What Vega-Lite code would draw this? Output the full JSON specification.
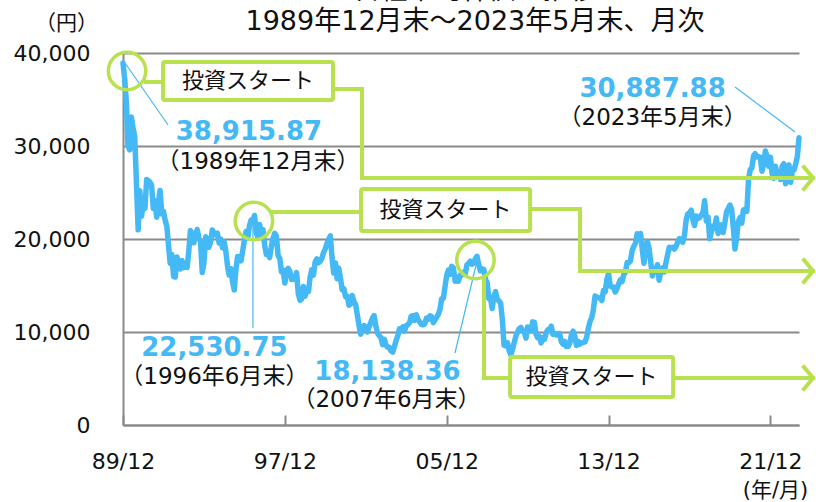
{
"$schema":"https://vega.github.io/schema/vega-lite/v6.json",
"width":676,"height":372,
"autosize":"none",
"padding":{"left":123,"top":53,"right":17,"bottom":77},
"background":"white",
"config":{"view":{"stroke":null},"font":"DejaVu Sans, Noto Sans CJK JP"},
"title":{"text":["日経平均株価の推移","1989年12月末～2023年5月末、月次"],"fontSize":27,"fontWeight":"normal","lineHeight":31,"color":"#111111","anchor":"middle","frame":"group","dx":14,"offset":-24,"font":"DejaVu Sans, Noto Sans CJK JP"},
"datasets":{
"s":[
{"d":"1989-12","v":38915.87},
{"d":"1990-01","v":37188.95},{"d":"1990-02","v":34591.99},{"d":"1990-03","v":29980.45},{"d":"1990-04","v":29584.80},{"d":"1990-05","v":33130.30},{"d":"1990-06","v":31940.24},{"d":"1990-07","v":31035.66},{"d":"1990-08","v":25978.96},{"d":"1990-09","v":20983.50},{"d":"1990-10","v":25194.10},{"d":"1990-11","v":22454.63},{"d":"1990-12","v":23848.71},
{"d":"1991-01","v":23293.14},{"d":"1991-02","v":26409.22},{"d":"1991-03","v":26292.04},{"d":"1991-04","v":26111.25},{"d":"1991-05","v":25789.87},{"d":"1991-06","v":23290.96},{"d":"1991-07","v":24120.36},{"d":"1991-08","v":22335.87},{"d":"1991-09","v":23916.45},{"d":"1991-10","v":25222.09},{"d":"1991-11","v":22687.01},{"d":"1991-12","v":22983.77},
{"d":"1992-01","v":22023.05},{"d":"1992-02","v":21338.81},{"d":"1992-03","v":19345.95},{"d":"1992-04","v":17390.70},{"d":"1992-05","v":18347.68},{"d":"1992-06","v":15951.73},{"d":"1992-07","v":15910.28},{"d":"1992-08","v":18061.08},{"d":"1992-09","v":17399.08},{"d":"1992-10","v":16767.40},{"d":"1992-11","v":17683.37},{"d":"1992-12","v":16924.95},
{"d":"1993-01","v":17023.78},{"d":"1993-02","v":16953.10},{"d":"1993-03","v":18591.45},{"d":"1993-04","v":20919.09},{"d":"1993-05","v":20552.67},{"d":"1993-06","v":19590.00},{"d":"1993-07","v":20380.24},{"d":"1993-08","v":21026.97},{"d":"1993-09","v":20105.71},{"d":"1993-10","v":19703.63},{"d":"1993-11","v":16407.86},{"d":"1993-12","v":17417.24},
{"d":"1994-01","v":20229.12},{"d":"1994-02","v":19997.20},{"d":"1994-03","v":19111.92},{"d":"1994-04","v":19725.14},{"d":"1994-05","v":20973.59},{"d":"1994-06","v":20643.93},{"d":"1994-07","v":20448.33},{"d":"1994-08","v":20628.71},{"d":"1994-09","v":19563.56},{"d":"1994-10","v":19989.50},{"d":"1994-11","v":19076.28},{"d":"1994-12","v":19723.06},
{"d":"1995-01","v":18649.82},{"d":"1995-02","v":17053.43},{"d":"1995-03","v":16139.95},{"d":"1995-04","v":16806.75},{"d":"1995-05","v":15437.51},{"d":"1995-06","v":14517.40},{"d":"1995-07","v":16677.99},{"d":"1995-08","v":18117.20},{"d":"1995-09","v":17913.06},{"d":"1995-10","v":17654.79},{"d":"1995-11","v":18744.28},{"d":"1995-12","v":19868.15},
{"d":"1996-01","v":20812.80},{"d":"1996-02","v":20125.37},{"d":"1996-03","v":21406.85},{"d":"1996-04","v":22041.07},{"d":"1996-05","v":21956.19},{"d":"1996-06","v":22530.75},{"d":"1996-07","v":20692.83},{"d":"1996-08","v":20167.76},{"d":"1996-09","v":21556.40},{"d":"1996-10","v":20466.42},{"d":"1996-11","v":21020.34},{"d":"1996-12","v":19361.35},
{"d":"1997-01","v":18330.01},{"d":"1997-02","v":18557.00},{"d":"1997-03","v":18003.40},{"d":"1997-04","v":19151.12},{"d":"1997-05","v":20068.00},{"d":"1997-06","v":20604.96},{"d":"1997-07","v":20331.19},{"d":"1997-08","v":18229.42},{"d":"1997-09","v":17888.35},{"d":"1997-10","v":16458.94},{"d":"1997-11","v":16636.17},{"d":"1997-12","v":15258.74},
{"d":"1998-01","v":16628.47},{"d":"1998-02","v":16831.67},{"d":"1998-03","v":16527.17},{"d":"1998-04","v":15641.26},{"d":"1998-05","v":15670.78},{"d":"1998-06","v":15830.27},{"d":"1998-07","v":16378.97},{"d":"1998-08","v":14107.89},{"d":"1998-09","v":13406.39},{"d":"1998-10","v":13564.51},{"d":"1998-11","v":14883.70},{"d":"1998-12","v":13842.17},
{"d":"1999-01","v":14499.25},{"d":"1999-02","v":14367.54},{"d":"1999-03","v":15836.59},{"d":"1999-04","v":16701.53},{"d":"1999-05","v":16111.65},{"d":"1999-06","v":17529.74},{"d":"1999-07","v":17861.86},{"d":"1999-08","v":17436.56},{"d":"1999-09","v":17605.46},{"d":"1999-10","v":17942.08},{"d":"1999-11","v":18558.23},{"d":"1999-12","v":18934.34},
{"d":"2000-01","v":19539.70},{"d":"2000-02","v":19959.52},{"d":"2000-03","v":20337.32},{"d":"2000-04","v":17973.70},{"d":"2000-05","v":16332.45},{"d":"2000-06","v":17411.05},{"d":"2000-07","v":15727.49},{"d":"2000-08","v":16861.26},{"d":"2000-09","v":15747.26},{"d":"2000-10","v":14539.60},{"d":"2000-11","v":14648.51},{"d":"2000-12","v":13785.69},
{"d":"2001-01","v":13843.55},{"d":"2001-02","v":12883.54},{"d":"2001-03","v":12999.70},{"d":"2001-04","v":13934.32},{"d":"2001-05","v":13262.14},{"d":"2001-06","v":12969.05},{"d":"2001-07","v":11860.77},{"d":"2001-08","v":10713.51},{"d":"2001-09","v":9774.68},{"d":"2001-10","v":10366.34},{"d":"2001-11","v":10697.44},{"d":"2001-12","v":10542.62},
{"d":"2002-01","v":9997.80},{"d":"2002-02","v":10587.83},{"d":"2002-03","v":11024.94},{"d":"2002-04","v":11492.54},{"d":"2002-05","v":11763.70},{"d":"2002-06","v":10621.84},{"d":"2002-07","v":9877.94},{"d":"2002-08","v":9619.30},{"d":"2002-09","v":9383.29},{"d":"2002-10","v":8640.48},{"d":"2002-11","v":9215.56},{"d":"2002-12","v":8578.95},
{"d":"2003-01","v":8339.94},{"d":"2003-02","v":8363.04},{"d":"2003-03","v":7972.71},{"d":"2003-04","v":7831.42},{"d":"2003-05","v":8424.51},{"d":"2003-06","v":9083.11},{"d":"2003-07","v":9563.21},{"d":"2003-08","v":10343.55},{"d":"2003-09","v":10219.05},{"d":"2003-10","v":10559.59},{"d":"2003-11","v":10100.57},{"d":"2003-12","v":10676.64},
{"d":"2004-01","v":10783.61},{"d":"2004-02","v":11041.92},{"d":"2004-03","v":11715.39},{"d":"2004-04","v":11761.79},{"d":"2004-05","v":11236.37},{"d":"2004-06","v":11858.87},{"d":"2004-07","v":11325.78},{"d":"2004-08","v":11081.79},{"d":"2004-09","v":10823.57},{"d":"2004-10","v":10771.42},{"d":"2004-11","v":10899.25},{"d":"2004-12","v":11488.76},
{"d":"2005-01","v":11387.59},{"d":"2005-02","v":11740.60},{"d":"2005-03","v":11668.95},{"d":"2005-04","v":11008.90},{"d":"2005-05","v":11276.59},{"d":"2005-06","v":11584.01},{"d":"2005-07","v":11899.60},{"d":"2005-08","v":12413.60},{"d":"2005-09","v":13574.30},{"d":"2005-10","v":13606.50},{"d":"2005-11","v":14872.15},{"d":"2005-12","v":16111.43},
{"d":"2006-01","v":16649.82},{"d":"2006-02","v":16205.43},{"d":"2006-03","v":17059.66},{"d":"2006-04","v":16906.23},{"d":"2006-05","v":15467.33},{"d":"2006-06","v":15505.18},{"d":"2006-07","v":15456.81},{"d":"2006-08","v":16140.76},{"d":"2006-09","v":16127.58},{"d":"2006-10","v":16399.39},{"d":"2006-11","v":16274.33},{"d":"2006-12","v":17225.83},
{"d":"2007-01","v":17383.42},{"d":"2007-02","v":17604.12},{"d":"2007-03","v":17287.65},{"d":"2007-04","v":17400.41},{"d":"2007-05","v":17875.75},{"d":"2007-06","v":18138.36},{"d":"2007-07","v":17248.89},{"d":"2007-08","v":16569.09},{"d":"2007-09","v":16785.69},{"d":"2007-10","v":16737.63},{"d":"2007-11","v":15680.67},{"d":"2007-12","v":15307.78},
{"d":"2008-01","v":13592.47},{"d":"2008-02","v":13603.02},{"d":"2008-03","v":12525.54},{"d":"2008-04","v":13849.99},{"d":"2008-05","v":14338.54},{"d":"2008-06","v":13481.38},{"d":"2008-07","v":13376.81},{"d":"2008-08","v":13072.87},{"d":"2008-09","v":11259.86},{"d":"2008-10","v":8576.98},{"d":"2008-11","v":8512.27},{"d":"2008-12","v":8859.56},
{"d":"2009-01","v":7994.05},{"d":"2009-02","v":7568.42},{"d":"2009-03","v":8109.53},{"d":"2009-04","v":8828.26},{"d":"2009-05","v":9522.50},{"d":"2009-06","v":9958.44},{"d":"2009-07","v":10356.83},{"d":"2009-08","v":10492.53},{"d":"2009-09","v":10133.23},{"d":"2009-10","v":10034.74},{"d":"2009-11","v":9345.55},{"d":"2009-12","v":10546.44},
{"d":"2010-01","v":10198.04},{"d":"2010-02","v":10126.03},{"d":"2010-03","v":11089.94},{"d":"2010-04","v":11057.40},{"d":"2010-05","v":9768.70},{"d":"2010-06","v":9382.64},{"d":"2010-07","v":9537.30},{"d":"2010-08","v":8824.06},{"d":"2010-09","v":9369.35},{"d":"2010-10","v":9202.45},{"d":"2010-11","v":9937.04},{"d":"2010-12","v":10228.92},
{"d":"2011-01","v":10237.92},{"d":"2011-02","v":10624.09},{"d":"2011-03","v":9755.10},{"d":"2011-04","v":9849.74},{"d":"2011-05","v":9693.73},{"d":"2011-06","v":9816.09},{"d":"2011-07","v":9833.03},{"d":"2011-08","v":8955.20},{"d":"2011-09","v":8700.29},{"d":"2011-10","v":8988.39},{"d":"2011-11","v":8434.61},{"d":"2011-12","v":8455.35},
{"d":"2012-01","v":8802.51},{"d":"2012-02","v":9723.24},{"d":"2012-03","v":10083.56},{"d":"2012-04","v":9520.89},{"d":"2012-05","v":8542.73},{"d":"2012-06","v":9006.78},{"d":"2012-07","v":8695.06},{"d":"2012-08","v":8839.91},{"d":"2012-09","v":8870.16},{"d":"2012-10","v":8928.29},{"d":"2012-11","v":9446.01},{"d":"2012-12","v":10395.18},
{"d":"2013-01","v":11138.66},{"d":"2013-02","v":11559.36},{"d":"2013-03","v":12397.91},{"d":"2013-04","v":13860.86},{"d":"2013-05","v":13774.54},{"d":"2013-06","v":13677.32},{"d":"2013-07","v":13668.32},{"d":"2013-08","v":13388.86},{"d":"2013-09","v":14455.80},{"d":"2013-10","v":14327.94},{"d":"2013-11","v":15661.87},{"d":"2013-12","v":16291.31},
{"d":"2014-01","v":14914.53},{"d":"2014-02","v":14841.07},{"d":"2014-03","v":14827.83},{"d":"2014-04","v":14304.11},{"d":"2014-05","v":14632.38},{"d":"2014-06","v":15162.10},{"d":"2014-07","v":15620.77},{"d":"2014-08","v":15424.59},{"d":"2014-09","v":16173.52},{"d":"2014-10","v":16413.76},{"d":"2014-11","v":17459.85},{"d":"2014-12","v":17450.77},
{"d":"2015-01","v":17674.39},{"d":"2015-02","v":18797.94},{"d":"2015-03","v":19206.99},{"d":"2015-04","v":19520.01},{"d":"2015-05","v":20563.15},{"d":"2015-06","v":20235.73},{"d":"2015-07","v":20585.24},{"d":"2015-08","v":18890.48},{"d":"2015-09","v":17388.15},{"d":"2015-10","v":19083.10},{"d":"2015-11","v":19747.47},{"d":"2015-12","v":19033.71},
{"d":"2016-01","v":17518.30},{"d":"2016-02","v":16026.76},{"d":"2016-03","v":16758.67},{"d":"2016-04","v":16666.05},{"d":"2016-05","v":17234.98},{"d":"2016-06","v":15575.92},{"d":"2016-07","v":16569.27},{"d":"2016-08","v":16887.40},{"d":"2016-09","v":16449.84},{"d":"2016-10","v":17425.02},{"d":"2016-11","v":18308.48},{"d":"2016-12","v":19114.37},
{"d":"2017-01","v":19041.34},{"d":"2017-02","v":19118.99},{"d":"2017-03","v":18909.26},{"d":"2017-04","v":19196.74},{"d":"2017-05","v":19650.57},{"d":"2017-06","v":20033.43},{"d":"2017-07","v":19925.18},{"d":"2017-08","v":19646.24},{"d":"2017-09","v":20356.28},{"d":"2017-10","v":22011.61},{"d":"2017-11","v":22724.96},{"d":"2017-12","v":22764.94},
{"d":"2018-01","v":23098.29},{"d":"2018-02","v":22068.24},{"d":"2018-03","v":21454.30},{"d":"2018-04","v":22467.87},{"d":"2018-05","v":22201.82},{"d":"2018-06","v":22304.51},{"d":"2018-07","v":22553.72},{"d":"2018-08","v":22865.15},{"d":"2018-09","v":24120.04},{"d":"2018-10","v":21920.46},{"d":"2018-11","v":22351.06},{"d":"2018-12","v":20014.77},
{"d":"2019-01","v":20773.49},{"d":"2019-02","v":21385.16},{"d":"2019-03","v":21205.81},{"d":"2019-04","v":22258.73},{"d":"2019-05","v":20601.19},{"d":"2019-06","v":21275.92},{"d":"2019-07","v":21521.53},{"d":"2019-08","v":20704.37},{"d":"2019-09","v":21755.84},{"d":"2019-10","v":22927.04},{"d":"2019-11","v":23293.91},{"d":"2019-12","v":23656.62},
{"d":"2020-01","v":23205.18},{"d":"2020-02","v":21142.96},{"d":"2020-03","v":18917.01},{"d":"2020-04","v":20193.69},{"d":"2020-05","v":21877.89},{"d":"2020-06","v":22288.14},{"d":"2020-07","v":21710.00},{"d":"2020-08","v":23139.76},{"d":"2020-09","v":23185.12},{"d":"2020-10","v":22977.13},{"d":"2020-11","v":26433.62},{"d":"2020-12","v":27444.17},
{"d":"2021-01","v":27663.39},{"d":"2021-02","v":28966.01},{"d":"2021-03","v":29178.80},{"d":"2021-04","v":28812.63},{"d":"2021-05","v":28860.08},{"d":"2021-06","v":28791.53},{"d":"2021-07","v":27283.59},{"d":"2021-08","v":28089.54},{"d":"2021-09","v":29452.66},{"d":"2021-10","v":28892.69},{"d":"2021-11","v":27821.76},{"d":"2021-12","v":28791.71},
{"d":"2022-01","v":27001.98},{"d":"2022-02","v":26526.82},{"d":"2022-03","v":27821.43},{"d":"2022-04","v":26847.90},{"d":"2022-05","v":27279.80},{"d":"2022-06","v":26393.04},{"d":"2022-07","v":27801.64},{"d":"2022-08","v":28091.53},{"d":"2022-09","v":25937.21},{"d":"2022-10","v":27587.46},{"d":"2022-11","v":27968.99},{"d":"2022-12","v":26094.50},
{"d":"2023-01","v":27327.11},{"d":"2023-02","v":27445.56},{"d":"2023-03","v":28041.48},{"d":"2023-04","v":28856.44},{"d":"2023-05","v":30887.88}
],
"ld":[
{"g":1,"o":0,"d":"1990-01-07","v":38925},{"g":1,"o":1,"d":"1992-02-22","v":32258},
{"g":2,"o":0,"d":"1996-05-04","v":21505},{"g":2,"o":1,"d":"1996-05-04","v":10430},
{"g":3,"o":0,"d":"2007-06-01","v":17634},{"g":3,"o":1,"d":"2006-04-29","v":7742},
{"g":4,"o":0,"d":"2020-03-02","v":36344},{"g":4,"o":1,"d":"2023-02-19","v":31505}
],
"gl":[
{"g":"A1","o":0,"d":"1991-01-20","v":36882},{"g":"A1","o":1,"d":"1991-11-23","v":36882},
{"g":"A2","o":0,"d":"2000-04-18","v":36129},{"g":"A2","o":1,"d":"2001-09-24","v":36129},{"g":"A2","o":2,"d":"2001-09-24","v":26559},{"g":"A2","o":3,"d":"2024-01-05","v":26559},
{"g":"A3","o":0,"d":"2023-07-29","v":27742},{"g":"A3","o":1,"d":"2024-01-10","v":26559},{"g":"A3","o":2,"d":"2023-07-29","v":25376},
{"g":"B1","o":0,"d":"1997-04-30","v":22903},{"g":"B1","o":1,"d":"2001-09-06","v":22903},
{"g":"B2","o":0,"d":"2010-01-14","v":23226},{"g":"B2","o":1,"d":"2012-07-04","v":23226},{"g":"B2","o":2,"d":"2012-07-04","v":16559},{"g":"B2","o":3,"d":"2024-01-05","v":16559},
{"g":"B3","o":0,"d":"2023-07-29","v":17742},{"g":"B3","o":1,"d":"2024-01-10","v":16559},{"g":"B3","o":2,"d":"2023-07-29","v":15376},
{"g":"C1","o":0,"d":"2007-10-05","v":15699},{"g":"C1","o":1,"d":"2007-10-05","v":5054},{"g":"C1","o":2,"d":"2009-01-18","v":5054},
{"g":"C2","o":0,"d":"2017-02-09","v":5054},{"g":"C2","o":1,"d":"2024-01-05","v":5054},
{"g":"C3","o":0,"d":"2023-07-29","v":6237},{"g":"C3","o":1,"d":"2024-01-10","v":5054},{"g":"C3","o":2,"d":"2023-07-29","v":3871}
],
"ci":[
{"d":"1990-02-12","v":38065},{"d":"1996-05-22","v":21935},{"d":"2007-05-04","v":17742}
],
"bx":[
{"d":"1991-11-23","d2":"2000-04-18","v":39032,"v2":34946},
{"d":"2001-09-06","d2":"2010-01-14","v":25376,"v2":20860},
{"d":"2009-01-18","d2":"2017-02-09","v":7312,"v2":3011}
],
"bt":[
{"d":"1996-02-05","v":36989,"t":"投資スタート"},
{"d":"2005-11-10","v":23118,"t":"投資スタート"},
{"d":"2013-01-28","v":5161,"t":"投資スタート"}
],
"nl":[
{"d":"1996-02-22","v":31505,"t":"38,915.87"},
{"d":"2016-02-04","v":36129,"t":"30,887.88"},
{"d":"1994-06-09","v":8280,"t":"22,530.75"},
{"d":"2002-12-28","v":5699,"t":"18,138.36"}
],
"dl":[
{"d":"1996-08-03","v":28280,"t":"（1989年12月末）"},
{"d":"2016-02-05","v":33011,"t":"（2023年5月末）"},
{"d":"1994-06-07","v":5161,"t":"（1996年6月末）"},
{"d":"2002-12-10","v":2688,"t":"（2007年6月末）"}
]
},
"encoding":{
"x":{"field":"d","type":"temporal",
 "scale":{"type":"utc","domain":[{"year":1989,"month":12,"date":1,"utc":true},{"year":2023,"month":5,"date":1,"utc":true}]},
 "axis":{"values":[{"year":1989,"month":12,"date":1,"utc":true},{"year":1997,"month":12,"date":1,"utc":true},{"year":2005,"month":12,"date":1,"utc":true},{"year":2013,"month":12,"date":1,"utc":true},{"year":2021,"month":12,"date":1,"utc":true}],
  "labelExpr":"utcFormat(datum.value, '%y/%m')","labelFontSize":22,"labelColor":"#111111","labelPadding":36,"labelFlush":false,"labelOverlap":false,
  "tickSize":-10,"tickColor":"#8a8a8a","tickWidth":2,"domainColor":"#8a8a8a","domainWidth":2,"grid":false,
  "title":"(年/月)","titleFontSize":21,"titleFontWeight":"normal","titleColor":"#111111","titleX":652,"titleY":65,"titleAlign":"center","titleBaseline":"middle","titleAnchor":null}},
"y":{"field":"v","type":"quantitative",
 "scale":{"domain":[0,40000],"nice":false},
 "axis":{"values":[0,10000,20000,30000,40000],"labelExpr":"format(datum.value, ',')","labelFontSize":22,"labelColor":"#111111","labelPadding":33,"ticks":false,
  "domainColor":"#8a8a8a","domainWidth":2,"grid":true,"gridColor":"#8a8a8a","gridWidth":2,
  "title":"（円）","titleAngle":0,"titleFontSize":21,"titleFontWeight":"normal","titleColor":"#111111","titleX":-57,"titleY":-30,"titleAlign":"center","titleBaseline":"middle","titleAnchor":null}}
},
"layer":[
{"data":{"name":"s"},"mark":{"type":"line","color":"#45b9f5","strokeWidth":5.5,"strokeJoin":"round","strokeCap":"round"}},
{"data":{"name":"ld"},"mark":{"type":"line","color":"#45b9f5","strokeWidth":1.2},"encoding":{"detail":{"field":"g"},"order":{"field":"o"}}},
{"data":{"name":"gl"},"mark":{"type":"line","color":"#b8e150","strokeWidth":4,"strokeJoin":"miter","strokeCap":"square"},"encoding":{"detail":{"field":"g"},"order":{"field":"o"}}},
{"data":{"name":"ci"},"mark":{"type":"point","shape":"circle","filled":false,"size":1400,"strokeWidth":3.5,"color":"#b8e150","opacity":1}},
{"data":{"name":"bx"},"mark":{"type":"rect","fill":"white","stroke":"#b8e150","strokeWidth":4,"cornerRadius":2},"encoding":{"x2":{"field":"d2"},"y2":{"field":"v2"}}},
{"data":{"name":"bt"},"mark":{"type":"text","fontSize":22,"font":"Noto Sans CJK JP","color":"#111111","align":"center","baseline":"middle"},"encoding":{"text":{"field":"t"}}},
{"data":{"name":"nl"},"mark":{"type":"text","fontSize":26,"fontWeight":"bold","font":"DejaVu Sans","color":"#45b9f5","align":"center","baseline":"middle"},"encoding":{"text":{"field":"t"}}},
{"data":{"name":"dl"},"mark":{"type":"text","fontSize":23,"font":"DejaVu Sans, Noto Sans CJK JP","color":"#111111","align":"center","baseline":"middle"},"encoding":{"text":{"field":"t"}}}
]
}
